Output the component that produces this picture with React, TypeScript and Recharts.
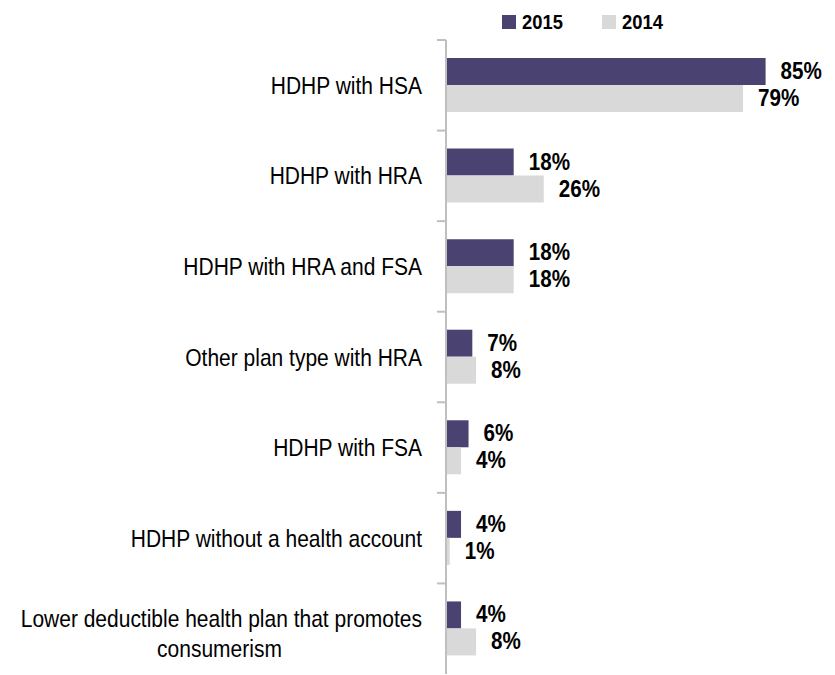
import React from 'react';
import { BarChart, Bar, XAxis, YAxis, Legend, LabelList } from 'recharts';

const categories = [
  'HDHP with HSA',
  'HDHP with HRA',
  'HDHP with HRA and FSA',
  'Other plan type with HRA',
  'HDHP with FSA',
  'HDHP without a health account',
  'Lower deductible health plan that promotes\nconsumerism',
];
const values2015 = [85, 18, 18, 7, 6, 4, 4];
const values2014 = [79, 26, 18, 8, 4, 1, 8];
const seriesNames = ['2015', '2014'];

const DARK = '#4a4270';
const LIGHT = '#d9d9d9';
const AXIS = '#bfbfbf';
const FONT = "'Liberation Sans', Arial, sans-serif";

const data = categories.map((c, i) => ({
  name: c,
  y2015: values2015[i],
  y2014: values2014[i],
}));

const CatTick = (props: any) => {
  const { x, y, payload } = props;
  const lines = String(payload.value).split('\n');
  const off = payload.offset ?? 0;
  const textX = x - 24;
  return (
    <g>
      <line x1={x - 9} x2={x} y1={y - off} y2={y - off} stroke={AXIS} strokeWidth={2} />
      {lines.length === 1 ? (
        <text
          transform={`translate(${textX},${y + 8.5}) scale(0.875,1)`}
          textAnchor="end"
          fontFamily={FONT}
          fontSize={24}
          fill="#000"
        >
          {lines[0]}
        </text>
      ) : (
        <g>
          <text
            transform={`translate(${textX},${y - 2}) scale(0.875,1)`}
            textAnchor="end"
            fontFamily={FONT}
            fontSize={24}
            fill="#000"
          >
            {lines[0]}
          </text>
          <text
            transform={`translate(${textX - 202.5},${y + 28}) scale(0.875,1)`}
            textAnchor="middle"
            fontFamily={FONT}
            fontSize={24}
            fill="#000"
          >
            {lines[1]}
          </text>
        </g>
      )}
    </g>
  );
};

const ValueLabel = (props: any) => {
  const { x, y, width, height, value } = props;
  return (
    <text
      transform={`translate(${x + width + 15},${y + height / 2 + 7.5}) scale(0.86,1)`}
      fontFamily={FONT}
      fontWeight="bold"
      fontSize={24}
      fill="#000"
    >
      {`${value}%`}
    </text>
  );
};

const LegendContent = (props: any) => {
  const items = [...(props.payload || [])].sort(
    (a: any, b: any) => seriesNames.indexOf(String(a.value)) - seriesNames.indexOf(String(b.value))
  );
  return (
    <svg width={200} height={30} style={{ overflow: 'visible', display: 'block' }}>
      {items.map((p: any, i: number) => (
        <g key={p.value} transform={`translate(${i * 100},0)`}>
          <rect x={0} y={11} width={14} height={14} fill={p.color} />
          <text
            transform={`translate(20,25) scale(0.875,1)`}
            fontFamily={FONT}
            fontWeight="bold"
            fontSize={21}
            fill="#000"
          >
            {p.value}
          </text>
        </g>
      ))}
    </svg>
  );
};

export default function App() {
  return (
    <div style={{ position: 'absolute', left: 0, top: 0, width: 835, height: 675, background: '#fff' }}>
      <BarChart
        width={835}
        height={675}
        data={data}
        layout="vertical"
        margin={{ top: 40, right: 13, bottom: 1, left: 0 }}
        barGap={0}
      >
        <XAxis type="number" domain={[0, 100]} hide />
        <YAxis
          type="category"
          dataKey="name"
          width={446}
          tick={<CatTick />}
          tickLine={false}
          tickSize={0}
          tickMargin={0}
          axisLine={{ stroke: AXIS, strokeWidth: 2 }}
          interval={0}
        />
        <Legend
          verticalAlign="middle"
          align="center"
          layout="horizontal"
          content={<LegendContent />}
          wrapperStyle={{ top: 4, left: 502, width: 200, height: 30 }}
        />
        <Bar dataKey="y2015" name={seriesNames[0]} fill={DARK} barSize={27} isAnimationActive={false}>
          <LabelList dataKey="y2015" content={<ValueLabel />} />
        </Bar>
        <Bar dataKey="y2014" name={seriesNames[1]} fill={LIGHT} barSize={27} isAnimationActive={false}>
          <LabelList dataKey="y2014" content={<ValueLabel />} />
        </Bar>
      </BarChart>
    </div>
  );
}
